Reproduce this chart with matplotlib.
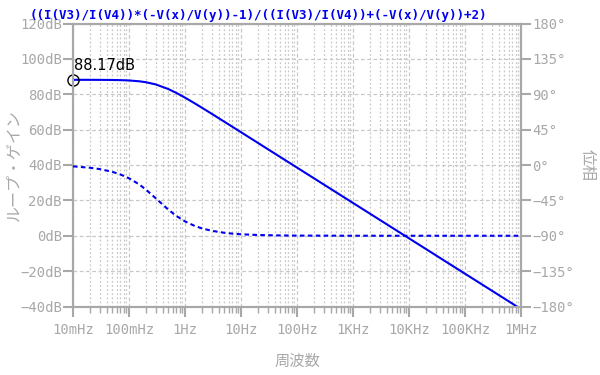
import matplotlib
matplotlib.use("Agg")
import matplotlib.pyplot as plt
from matplotlib.ticker import FixedLocator, LogLocator, NullFormatter

# frequency points (Hz) and values
freq = [0.01, 0.02, 0.03, 0.05, 0.07, 0.1, 0.15, 0.2, 0.3, 0.5, 0.7,
        1, 1.5, 2, 3, 5, 7, 10, 20, 50, 100, 1e3, 1e4, 1e5, 1e6]
gain_db = [88.17, 88.15, 88.13, 88.07, 87.98, 87.79, 87.35, 86.81, 85.56,
           82.99, 80.77, 78.09, 74.81, 72.40, 68.95, 64.54, 61.63, 58.54,
           52.52, 44.56, 38.54, 18.54, -1.46, -21.46, -41.46]
phase_deg = [-1.7, -3.5, -5.2, -8.6, -12.0, -16.9, -24.4, -31.2, -42.3,
             -56.6, -64.8, -71.7, -77.6, -80.6, -83.7, -86.2, -87.3, -88.1,
             -89.05, -89.6, -89.8, -89.98, -90, -90, -90]

xticks = [1e-2, 1e-1, 1, 10, 100, 1e3, 1e4, 1e5, 1e6]
xlabels = ["10mHz", "100mHz", "1Hz", "10Hz", "100Hz", "1KHz", "10KHz", "100KHz", "1MHz"]
yticks = list(range(-40, 121, 20))
ylabels = [f"{v}dB".replace("-", "\u2212") for v in yticks]
pticks = list(range(-180, 181, 45))
plabels = [f"{v}\u00b0".replace("-", "\u2212") for v in pticks]

title = "((I(V3)/I(V4))*(-V(x)/V(y))-1)/((I(V3)/I(V4))+(-V(x)/V(y))+2)"

gray = "#a8a8a8"
gridc = "#c8c8c8"
blue = "#0000f0"
mono = "DejaVu Sans Mono"
cjk = ["Noto Sans CJK JP", "DejaVu Sans"]

fig = plt.figure(figsize=(6, 3.75), dpi=100)
ax = fig.add_axes([73 / 600, 1 - 306.5 / 375, 448 / 600, 283 / 375])
ax2 = ax.twinx()

ax.set_xscale("log")
ax.set_xlim(1e-2, 1e6)
ax.set_ylim(-40, 120)
ax2.set_ylim(-180, 180)

ax.plot(freq, gain_db, color=blue, lw=1.5, zorder=3)
ax2.plot(freq, phase_deg, color=blue, lw=1.5, ls=(0, (2.2, 1.6)), zorder=3)

ax.plot([freq[0]], [gain_db[0]], "o", mfc="none", mec="black", ms=8, mew=1.0,
        clip_on=False, zorder=5)
ax.text(0.0105, 92, f"{gain_db[0]:.2f}dB", fontsize=10.5, color="black",
        ha="left", va="bottom", zorder=5)

ax.xaxis.set_major_locator(FixedLocator(xticks))
ax.set_xticklabels(xlabels)
ax.xaxis.set_minor_locator(LogLocator(base=10, subs=range(2, 10), numticks=20))
ax.xaxis.set_minor_formatter(NullFormatter())
ax.set_yticks(yticks)
ax.set_yticklabels(ylabels)
ax2.set_yticks(pticks)
ax2.set_yticklabels(plabels)

ax.grid(which="major", axis="y", color=gridc, ls=(0, (3, 2)), lw=0.9)
ax.grid(which="major", axis="x", color=gridc, ls=(0, (3, 2)), lw=0.9)
ax.grid(which="minor", axis="x", color=gridc, ls=(0, (1.5, 1.8)), lw=0.9)

for a in (ax, ax2):
    for s in a.spines.values():
        s.set_color(gray)
        s.set_linewidth(1.5)
    a.tick_params(which="major", color=gray, width=1.5, length=7,
                  labelcolor=gray, labelsize=10, pad=1)
    for lab in a.get_xticklabels() + a.get_yticklabels():
        lab.set_fontfamily(mono)
ax.tick_params(which="minor", axis="x", color=gray, width=1.0, length=4)
ax.tick_params(axis="x", pad=5)

ax.set_xlabel("周波数", fontsize=11, color=gray, family=cjk, va="center")
ax.xaxis.set_label_coords(0.5, (306.5 - 361) / 283)
ax.set_ylabel("ループ・ゲイン", fontsize=11.5, color=gray, family=cjk, va="center")
ax.yaxis.set_label_coords((15 - 73) / 448, 0.5)
ax2.set_ylabel("位相", fontsize=11.5, color=gray, family=cjk, rotation=270,
               va="center")
ax2.yaxis.set_label_coords((587 - 73) / 448, 0.5)

fig.text(30 / 600, 1 - 16 / 375, title, fontsize=9, color=blue, family=mono,
         fontweight="bold", ha="left", va="center")

fig.savefig("out.png", dpi=100)
